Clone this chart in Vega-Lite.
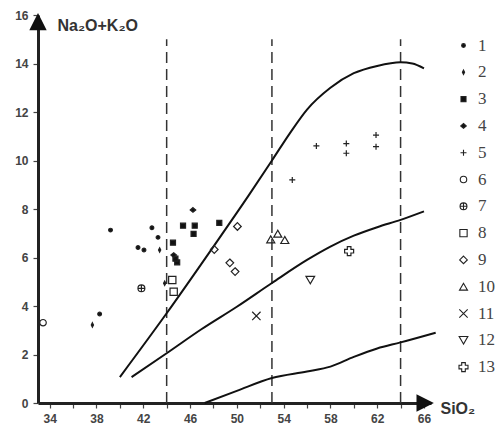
{
  "$schema": "https://vega.github.io/schema/vega-lite/v6.json",
  "width": 393,
  "height": 388,
  "autosize": {"type": "none"},
  "padding": {"left": 38, "top": 15, "right": 65, "bottom": 27},
  "background": "white",
  "config": {
    "view": {"stroke": null},
    "axis": {
      "grid": false,
      "domainColor": "#222",
      "domainWidth": 3,
      "tickColor": "#444",
      "tickWidth": 1.2,
      "tickSize": 5,
      "labelFont": "Liberation Sans",
      "labelFontWeight": "bold",
      "labelFontSize": 12,
      "labelColor": "#444",
      "titleFont": "Liberation Sans",
      "titleFontSize": 16,
      "titleFontWeight": "bold",
      "titleColor": "#333"
    }
  },
  "encoding": {
    "x": {
      "field": "x", "type": "quantitative",
      "scale": {"domain": [33, 66.6], "nice": false, "zero": false},
      "axis": {
        "values": [34,36,38,40,42,44,46,48,50,52,54,56,58,60,62,64,66],
        "labelExpr": "datum.value % 4 == 2 ? datum.label : ''",
        "labelPadding": 5,
        "title": "SiO₂",
        "titleAlign": "left",
        "titleBaseline": "middle",
        "titleAnchor": "start",
        "titleX": 402,
        "titleY": 5
      }
    },
    "y": {
      "field": "y", "type": "quantitative",
      "scale": {"domain": [0, 16], "nice": false},
      "axis": {
        "values": [0,2,4,6,8,10,12,14,16],
        "labelPadding": 5,
        "title": "Na₂O+K₂O",
        "titleAngle": 0,
        "titleAlign": "left",
        "titleBaseline": "middle",
        "titleX": 19,
        "titleY": 10
      }
    }
  },
  "layer": [
    {
      "data": {"values": [
        {"x": 44, "y": 0, "y2": 15},
        {"x": 53, "y": 0, "y2": 15},
        {"x": 64, "y": 0, "y2": 15}
      ]},
      "mark": {"type": "rule", "stroke": "#333", "strokeWidth": 1.5, "strokeDash": [11, 6]},
      "encoding": {"y2": {"field": "y2"}}
    },
    {
      "data": {"values": [
        {"curve": "a", "x": 40, "y": 1.07},
        {"curve": "a", "x": 44, "y": 3.7},
        {"curve": "a", "x": 48, "y": 6.45},
        {"curve": "a", "x": 51, "y": 8.55},
        {"curve": "a", "x": 53, "y": 10.0},
        {"curve": "a", "x": 54.5, "y": 11.1},
        {"curve": "a", "x": 56, "y": 12.1},
        {"curve": "a", "x": 58, "y": 13.0},
        {"curve": "a", "x": 60, "y": 13.6},
        {"curve": "a", "x": 62, "y": 13.9},
        {"curve": "a", "x": 64, "y": 14.05},
        {"curve": "a", "x": 65, "y": 14.0},
        {"curve": "a", "x": 66, "y": 13.8},
        {"curve": "b", "x": 41, "y": 1.07},
        {"curve": "b", "x": 44, "y": 2.05},
        {"curve": "b", "x": 47, "y": 3.05},
        {"curve": "b", "x": 50, "y": 3.97},
        {"curve": "b", "x": 53, "y": 4.95},
        {"curve": "b", "x": 56, "y": 5.9},
        {"curve": "b", "x": 58, "y": 6.45},
        {"curve": "b", "x": 60, "y": 6.9},
        {"curve": "b", "x": 62, "y": 7.25},
        {"curve": "b", "x": 64, "y": 7.55},
        {"curve": "b", "x": 66, "y": 7.9},
        {"curve": "c", "x": 47.25, "y": 0},
        {"curve": "c", "x": 50, "y": 0.5},
        {"curve": "c", "x": 53, "y": 1.03},
        {"curve": "c", "x": 56, "y": 1.3},
        {"curve": "c", "x": 58, "y": 1.5},
        {"curve": "c", "x": 60, "y": 1.9},
        {"curve": "c", "x": 62, "y": 2.25},
        {"curve": "c", "x": 64, "y": 2.5},
        {"curve": "c", "x": 67, "y": 2.9}
      ]},
      "mark": {"type": "line", "stroke": "#111", "strokeWidth": 2, "interpolate": "monotone"},
      "encoding": {"detail": {"field": "curve"}}
    },
    {
      "data": {"values": [
        {"type": 1, "x": 39.2, "y": 7.13},
        {"type": 1, "x": 42.74, "y": 7.23},
        {"type": 1, "x": 43.26, "y": 6.83},
        {"type": 1, "x": 41.55, "y": 6.41},
        {"type": 1, "x": 42.06, "y": 6.31},
        {"type": 1, "x": 38.27, "y": 3.67},
        {"type": 2, "x": 37.65, "y": 3.22},
        {"type": 2, "x": 43.4, "y": 6.31},
        {"type": 2, "x": 43.83, "y": 4.94},
        {"type": 3, "x": 45.4, "y": 7.31},
        {"type": 3, "x": 46.4, "y": 7.31},
        {"type": 3, "x": 46.3, "y": 6.97},
        {"type": 3, "x": 48.5, "y": 7.43},
        {"type": 3, "x": 44.54, "y": 6.61},
        {"type": 3, "x": 44.9, "y": 5.8},
        {"type": 3, "x": 44.75, "y": 5.95},
        {"type": 4, "x": 46.25, "y": 7.96},
        {"type": 4, "x": 44.6, "y": 6.1},
        {"type": 5, "x": 54.74, "y": 9.2},
        {"type": 5, "x": 56.8, "y": 10.6},
        {"type": 5, "x": 59.36, "y": 10.7},
        {"type": 5, "x": 59.36, "y": 10.3},
        {"type": 5, "x": 61.9, "y": 11.05},
        {"type": 5, "x": 61.9, "y": 10.57},
        {"type": 6, "x": 33.43, "y": 3.31},
        {"type": 7, "x": 41.84, "y": 4.73},
        {"type": 8, "x": 44.48, "y": 5.07},
        {"type": 8, "x": 44.6, "y": 4.59},
        {"type": 9, "x": 50.05, "y": 7.28},
        {"type": 9, "x": 48.07, "y": 6.33},
        {"type": 9, "x": 49.4, "y": 5.78},
        {"type": 9, "x": 49.85, "y": 5.42},
        {"type": 10, "x": 52.9, "y": 6.75},
        {"type": 10, "x": 53.5, "y": 6.98},
        {"type": 10, "x": 54.1, "y": 6.72},
        {"type": 11, "x": 51.67, "y": 3.59},
        {"type": 12, "x": 56.28, "y": 5.07},
        {"type": 13, "x": 59.6, "y": 6.26}
      ]},
      "mark": {"type": "point", "filled": true, "stroke": "#222", "strokeWidth": 1.2, "opacity": 1},
      "encoding": {
        "shape": {
          "field": "type", "type": "ordinal",
          "scale": {
            "domain": [1,2,3,4,5,6,7,8,9,10,11,12,13],
            "range": [
              "circle",
              "M0,-1L0.5,0L0,1L-0.5,0Z",
              "square",
              "M0,-0.85L1,0L0,0.85L-1,0Z",
              "M-1,0L1,0M0,-1L0,1",
              "circle",
              "M-1,0A1,1 0 1,1 1,0A1,1 0 1,1 -1,0ZM-1,0L1,0M0,-1L0,1",
              "square",
              "M0,-1L1,0L0,1L-1,0Z",
              "triangle-up",
              "M-1,-1L1,1M-1,1L1,-1",
              "triangle-down",
              "cross"
            ]
          },
          "legend": {
            "title": null,
            "orient": "none",
            "legendX": 417,
            "legendY": 22,
            "padding": 0,
            "labelFont": "Liberation Serif",
            "labelFontSize": 17,
            "labelColor": "#444",
            "labelOffset": 6,
            "rowPadding": 8.8,
            "symbolStrokeColor": "#333",
            "symbolStrokeWidth": 1.1
          }
        },
        "fill": {
          "field": "type", "type": "ordinal",
          "scale": {
            "domain": [1,2,3,4,5,6,7,8,9,10,11,12,13],
            "range": ["#111","#111","#111","#111","transparent","transparent","transparent","transparent","transparent","transparent","transparent","transparent","transparent"]
          }
        },
        "size": {
          "field": "type", "type": "ordinal",
          "scale": {
            "domain": [1,2,3,4,5,6,7,8,9,10,11,12,13],
            "range": [14, 81, 49, 81, 100, 64, 100, 64, 100, 81, 81, 100, 121]
          }
        }
      }
    },
    {
      "data": {"values": [{"x": 33, "y": 15.7}]},
      "mark": {"type": "point", "shape": "M0,-1L1,1L-1,1Z", "size": 200, "filled": true, "fill": "#111", "stroke": "#111", "opacity": 1}
    },
    {
      "data": {"values": [{"x": 66.05, "y": 0}]},
      "mark": {"type": "point", "shape": "M-1,-1L1,0L-1,1Z", "size": 200, "filled": true, "fill": "#111", "stroke": "#111", "opacity": 1}
    }
  ]
}
